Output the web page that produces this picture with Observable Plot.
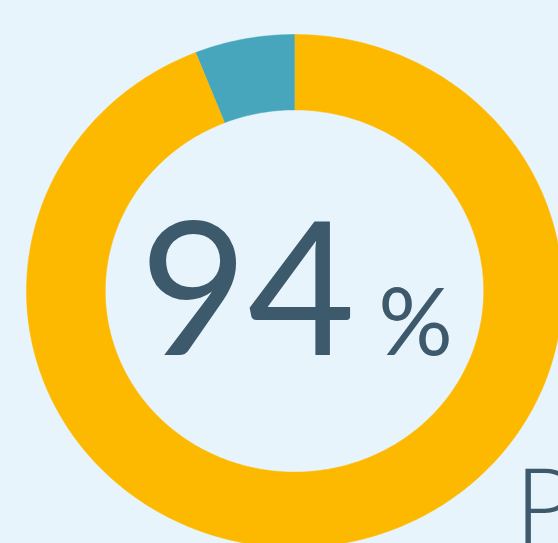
<!DOCTYPE html>
<html>
<head>
<meta charset="utf-8">
<script src="https://cdn.jsdelivr.net/npm/d3@7"></script>
<script src="https://cdn.jsdelivr.net/npm/@observablehq/plot@0.6"></script>
<style>
  html, body { margin: 0; padding: 0; background: #e8f4fb; overflow: hidden; }
  #chart svg { display: block; background: #e8f4fb; }
</style>
</head>
<body>
<div id="chart"></div>
<script>
// Data
const categories = ["Yes", "No"];
const values = [94, 6];
const colors = ["#fdb900", "#47a6bb"];
const centerLabel = "94";
const unitLabel = "%";
const cornerLabel = "P";

const innerRatio = 0.706;
const total = d3.sum(values);

// Build ring polygons from the values (clockwise from 12 o'clock)
const rows = [];
let acc = 0;
values.forEach((v, i) => {
  const a0 = acc / total * 2 * Math.PI;
  const a1 = (acc + v) / total * 2 * Math.PI;
  acc += v;
  const n = Math.max(4, Math.ceil(v * 4));
  const pts = [];
  for (let k = 0; k <= n; k++) pts.push({a: a0 + (a1 - a0) * k / n, r: 1});
  for (let k = n; k >= 0; k--) pts.push({a: a0 + (a1 - a0) * k / n, r: innerRatio});
  pts.forEach(p => rows.push({
    category: categories[i],
    x: p.r * Math.sin(p.a),
    y: p.r * Math.cos(p.a)
  }));
});

const plot = Plot.plot({
  width: 558,
  height: 543,
  margin: 0,
  style: { background: "#e8f4fb", overflow: "hidden" },
  x: { domain: [-1, 1], range: [26, 562], axis: null },
  y: { domain: [-1, 1], range: [547, 34], axis: null },
  color: { domain: categories, range: colors },
  marks: [
    Plot.line(rows, { x: "x", y: "y", z: "category", fill: "category", stroke: "category", strokeWidth: 0.5 }),
    Plot.text([centerLabel], { x: () => 0, y: () => 0, text: d => d, textAnchor: "middle", lineAnchor: "bottom",
      dx: -47, dy: 64, fontSize: 186, fontFamily: "Lato", fontWeight: 400, fill: "#3d5a6c" }),
    Plot.text([unitLabel], { x: () => 0, y: () => 0, text: d => d, textAnchor: "middle", lineAnchor: "bottom",
      dx: 121, dy: 64, fontSize: 93, fontFamily: "Lato", fontWeight: 400, fill: "#3d5a6c" }),
    Plot.text([cornerLabel], { x: () => 0, y: () => 0, text: d => d, textAnchor: "start", lineAnchor: "bottom",
      dx: 220, dy: 252, fontSize: 105, fontFamily: "Lato", fontWeight: 300, fill: "#3d5a6c" })
  ]
});
document.getElementById("chart").appendChild(plot);
</script>
</body>
</html>
